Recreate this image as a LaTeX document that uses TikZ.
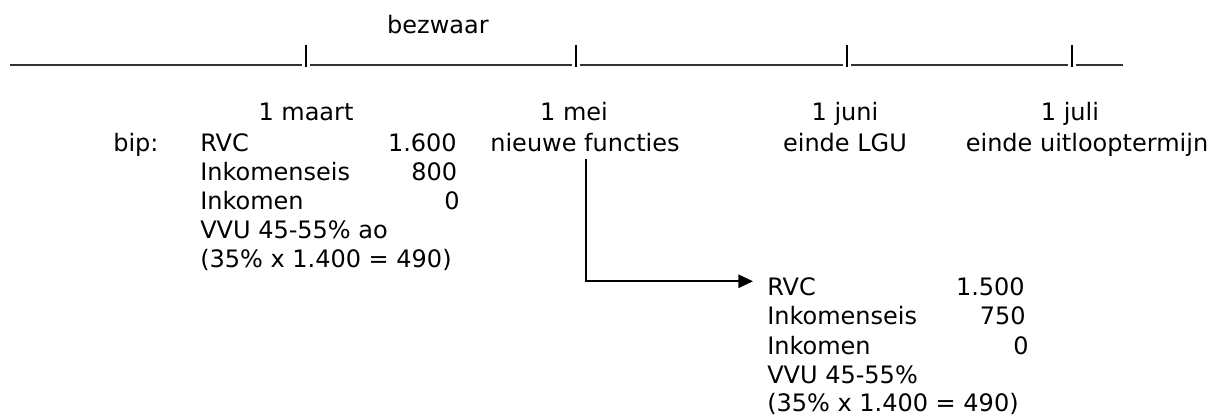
\documentclass[tikz,border=0pt]{standalone}
\usepackage{fontspec}
\setmainfont{DejaVu Sans}
\usetikzlibrary{arrows.meta,positioning}
\tikzset{
  lbl/.style={inner sep=0pt, font=\fontsize{18pt}{21.75pt}\selectfont},
  tijdlijn/.style={line width=1.5pt, draw=black!80},
  streep/.style={line width=1.5pt},
  pijl/.style={line width=1.5pt, -{Triangle[length=11pt,width=10pt]}},
}
\begin{document}
\begin{tikzpicture}[x=0.75pt,y=-0.75pt]
\useasboundingbox (0,0) rectangle (1215,417);
\node[lbl,anchor=base] (bezwaar) at (438,33.5) {bezwaar};
\foreach \a/\b in {10/302,310/572,580/843,851/1068,1076/1123}
  \draw[tijdlijn] (\a,65.5) -- (\b,65.5);
\foreach \x in {306,576,847,1072}
  \draw[streep] (\x,45) -- (\x,67);
\node[lbl,anchor=base] (maart) at (306,121) {1 maart};
\node[lbl,anchor=base] (mei) at (574,121) {1 mei};
\node[lbl,anchor=base] (juni) at (845,121) {1 juni};
\node[lbl,anchor=base] (juli) at (1070,121) {1 juli};
\node[lbl,anchor=base west] (bip) at (113,151.5) {bip:};
\node[lbl,anchor=base west] (rvcA) at (200,151.5) {RVC};
\node[lbl,anchor=base east] (rvcAw) at (457,151.5) {1.600};
\node[lbl,anchor=base west] (eisA) at (200,180.5) {Inkomenseis};
\node[lbl,anchor=base east] (eisAw) at (457.5,180.5) {800};
\node[lbl,anchor=base west] (inkA) at (200,209.5) {Inkomen};
\node[lbl,anchor=base east] (inkAw) at (460,209.5) {0};
\node[lbl,anchor=base west] (vvuA) at (200,238.5) {VVU 45-55\% ao};
\node[lbl,anchor=base west] (somA) at (200,267.5) {(35\% x 1.400 = 490)};
\node[lbl,anchor=base] (nieuw) at (585,151.5) {nieuwe functies};
\node[lbl,anchor=base] (lgu) at (845,151.5) {einde LGU};
\node[lbl,anchor=base] (uitloop) at (1087,151.5) {einde uitlooptermijn};
\node[lbl,anchor=base west] (rvcB) at (767,296) {RVC};
\node[lbl,anchor=base east] (rvcBw) at (1025,296) {1.500};
\node[lbl,anchor=base west] (eisB) at (767,325) {Inkomenseis};
\node[lbl,anchor=base east] (eisBw) at (1026,325) {750};
\node[lbl,anchor=base west] (inkB) at (767,354) {Inkomen};
\node[lbl,anchor=base east] (inkBw) at (1029,354) {0};
\node[lbl,anchor=base west] (vvuB) at (767,383) {VVU 45-55\%};
\node[lbl,anchor=base west] (somB) at (767,411.5) {(35\% x 1.400 = 490)};
\draw[pijl] ([xshift=0.75pt,yshift=-5.5pt]nieuw.south) |- ([xshift=-10.5pt,yshift=4.5pt]rvcB.west);
\end{tikzpicture}
\end{document}
